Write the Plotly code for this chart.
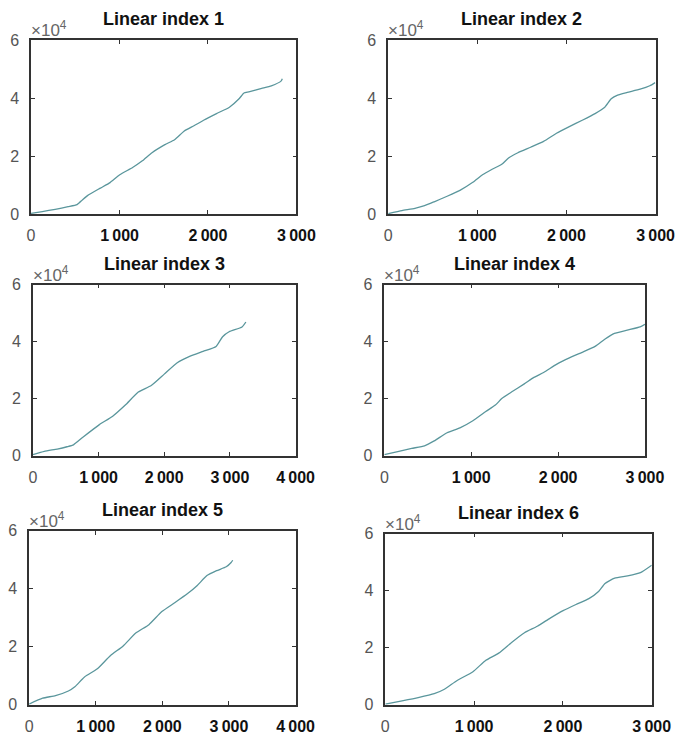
import plotly.graph_objects as go

W, H = 692, 746

# ---- data ----
x1 = [0, 128, 273, 419, 520, 580, 638, 784, 893, 1003, 1148, 1258, 1367, 1513, 1622, 1732, 1841, 1950, 2096, 2242, 2351, 2406, 2461, 2607, 2716, 2825, 2840]
y1 = [300, 900, 1690, 2590, 3300, 4900, 6400, 9000, 10900, 13600, 16100, 18400, 21200, 24000, 25700, 28700, 30500, 32400, 34700, 36900, 39800, 41800, 42200, 43400, 44300, 45900, 46700]

x2 = [0, 155, 300, 408, 516, 661, 805, 949, 1058, 1166, 1274, 1347, 1455, 1599, 1744, 1888, 2032, 2177, 2321, 2430, 2502, 2574, 2682, 2827, 2935, 2995]
y2 = [200, 1240, 2030, 2930, 4280, 6190, 8220, 11000, 13600, 15500, 17200, 19300, 21200, 23100, 25100, 27900, 30200, 32400, 34700, 36900, 39800, 41100, 42000, 43100, 44300, 45400]

x3 = [0, 173, 370, 519, 617, 765, 1012, 1210, 1407, 1605, 1802, 2000, 2198, 2395, 2593, 2790, 2889, 2988, 3185, 3244]
y3 = [340, 1490, 2290, 3090, 3770, 6510, 10860, 13710, 17710, 22290, 24570, 28570, 32570, 34860, 36570, 38290, 41710, 43430, 45140, 46860]

x4 = [0, 167, 315, 463, 574, 722, 870, 1019, 1167, 1278, 1352, 1463, 1611, 1722, 1833, 1981, 2130, 2278, 2426, 2537, 2648, 2796, 2944, 3000]
y4 = [340, 1490, 2510, 3430, 5140, 8000, 9710, 12230, 15430, 17710, 20000, 22290, 25140, 27430, 29140, 32000, 34290, 36230, 38290, 40800, 42860, 44000, 45140, 46060]

x5 = [0, 203, 397, 590, 687, 832, 1025, 1219, 1412, 1606, 1799, 1993, 2186, 2380, 2525, 2670, 2815, 2960, 3033, 3057]
y5 = [230, 2260, 3160, 4740, 6200, 9590, 12400, 16920, 20300, 24810, 27630, 32140, 35190, 38340, 41160, 44550, 46240, 47590, 49060, 49850]

x6 = [0, 189, 370, 551, 660, 805, 987, 1132, 1277, 1422, 1567, 1712, 1857, 2002, 2147, 2292, 2401, 2474, 2583, 2728, 2873, 3000]
y6 = [230, 1370, 2500, 3870, 5350, 8430, 11610, 15600, 18100, 21860, 25280, 27550, 30400, 33020, 35180, 37230, 39740, 42580, 44400, 45200, 46340, 48960]

titles = ["Linear index 1", "Linear index 2", "Linear index 3",
          "Linear index 4", "Linear index 5", "Linear index 6"]
x_max = [3000, 3000, 4000, 3000, 4000, 3000]
y_ticks = [0, 20000, 40000, 60000]
y_tick_text = ["0", "2", "4", "6"]
x_ticks_3k = [0, 1000, 2000, 3000]
x_ticks_4k = [0, 1000, 2000, 3000, 4000]

series_x = [x1, x2, x3, x4, x5, x6]
series_y = [y1, y2, y3, y4, y5, y6]

# ---- layout (pixel boxes: left, right, top, bottom) ----
boxes = [
    (28, 303, 33, 211),
    (398, 675, 33, 211),
    (30, 302, 283, 458),
    (394, 664, 283, 458),
    (26, 302, 535, 713),
    (395, 671, 538, 713),
]

FONT = "Liberation Sans, Arial, sans-serif"
LINE = "#5a969c"
FRAME = "#333333"

def xlab(v):
    if v == 0:
        return "0"
    s = f"{v:,}".replace(",", "\u2009")
    return f"<b><span style='color:#111111'>{s}</span></b>"

fig = go.Figure()
annotations = []
for i in range(6):
    n = "" if i == 0 else str(i + 1)
    l, r, t, b = boxes[i]
    fig.add_trace(go.Scatter(x=series_x[i], y=series_y[i], mode="lines",
                             line=dict(color=LINE, width=1.3, shape="spline", smoothing=0.5),
                             xaxis="x" + n, yaxis="y" + n, showlegend=False,
                             hoverinfo="skip"))
    xt = x_ticks_3k if x_max[i] == 3000 else x_ticks_4k
    fig.layout["xaxis" + n] = dict(
        domain=[l / W, r / W], anchor="y" + n, range=[0, x_max[i]],
        tickvals=xt, ticktext=[xlab(v) for v in xt],
        ticks="inside", ticklen=4, tickcolor=FRAME, tickwidth=1,
        showline=True, linecolor=FRAME, linewidth=1.5, mirror="allticks",
        showgrid=False, zeroline=False,
        tickfont=dict(family=FONT, size=16, color="#555555"),
        ticklabelstandoff=6,
    )
    fig.layout["yaxis" + n] = dict(
        domain=[1 - b / H, 1 - t / H], anchor="x" + n, range=[0, 60000],
        tickvals=y_ticks, ticktext=y_tick_text,
        ticks="inside", ticklen=4, tickcolor=FRAME, tickwidth=1,
        showline=True, linecolor=FRAME, linewidth=1.5, mirror="allticks",
        showgrid=False, zeroline=False,
        tickfont=dict(family=FONT, size=16, color="#555555"),
        ticklabelstandoff=7,
    )
    annotations.append(dict(
        text=f"<b>{titles[i]}</b>", xref="paper", yref="paper",
        x=(l + r) / 2 / W, y=1 - t / H, xanchor="center", yanchor="bottom",
        yshift=9, showarrow=False,
        font=dict(family=FONT, size=18, color="#111111")))
    annotations.append(dict(
        text="\u00d710<sup>4</sup>", xref="paper", yref="paper",
        x=(l - 2) / W, y=1 - t / H, xanchor="left", yanchor="bottom",
        yshift=-2, showarrow=False,
        font=dict(family=FONT, size=17, color="#666666")))

fig.update_layout(
    width=W, height=H, margin=dict(l=0, r=0, t=0, b=0),
    paper_bgcolor="white", plot_bgcolor="white",
    annotations=annotations,
)

fig.write_html("out.html")
